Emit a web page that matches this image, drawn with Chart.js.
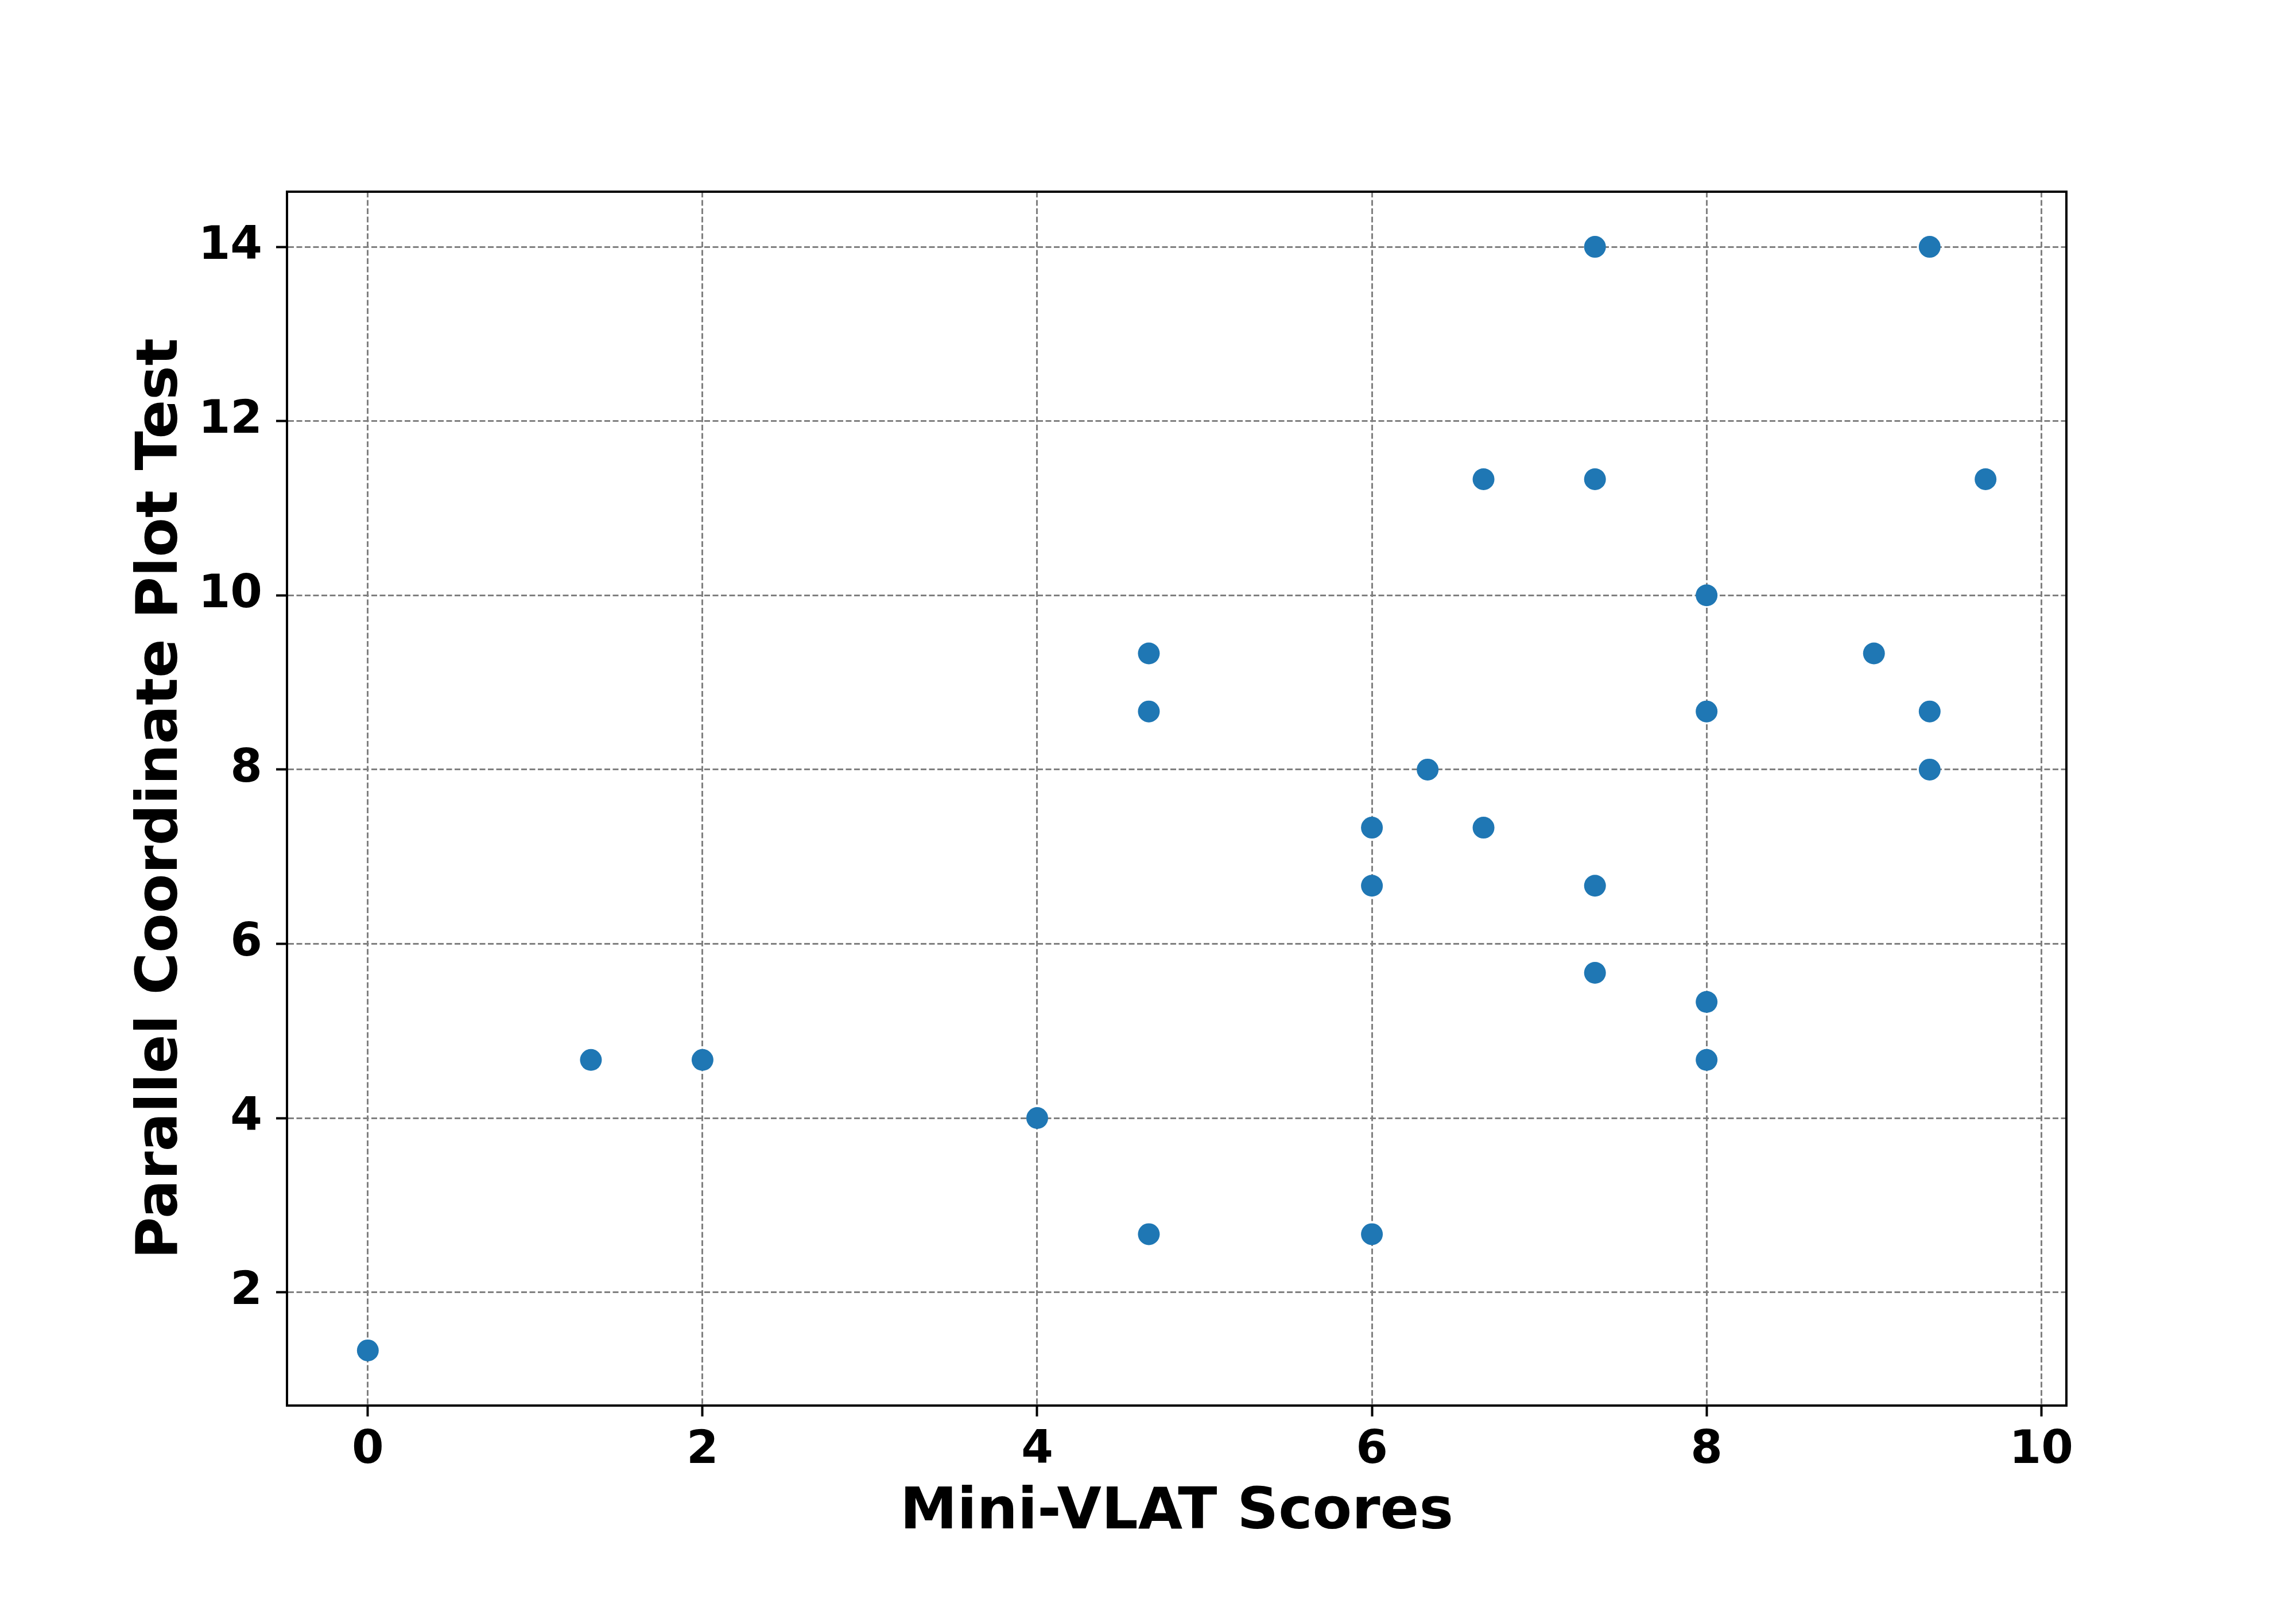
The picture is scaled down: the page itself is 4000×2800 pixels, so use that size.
<!DOCTYPE html>
<html>
<head>
<meta charset="utf-8">
<script src="https://cdn.jsdelivr.net/npm/chart.js@4/dist/chart.umd.min.js"></script>
<style>
  html, body { margin: 0; padding: 0; background: #fff; }
</style>
</head>
<body>
<canvas id="scatter" width="4000" height="2800"></canvas>
<script>
// Mini-VLAT score vs parallel coordinate plot test score, one point per participant
const miniVlat = [0, 1.333, 2, 4, 4.667, 4.667, 4.667, 6, 6, 6, 6.333, 6.667, 6.667,
  7.333, 7.333, 7.333, 7.333, 8, 8, 8, 8, 9, 9.333, 9.333, 9.333, 9.667];
const pcpTest = [1.333, 4.667, 4.667, 4, 2.667, 9.333, 8.667, 7.333, 6.667, 2.667, 8, 11.333, 7.333,
  14, 11.333, 6.667, 5.667, 10, 8.667, 5.333, 4.667, 9.333, 14, 8.667, 8, 11.333];
const xTicks = [0, 2, 4, 6, 8, 10];
const yTicks = [2, 4, 6, 8, 10, 12, 14];

const points = miniVlat.map((x, i) => ({ x: x, y: pcpTest[i] }));

// top + right spines (matplotlib style box)
const frame = {
  id: 'frame',
  afterDraw(chart) {
    const { ctx, chartArea: a } = chart;
    ctx.save();
    ctx.setLineDash([]);
    ctx.strokeStyle = '#000';
    ctx.lineWidth = 4;
    ctx.strokeRect(a.left, a.top, a.right - a.left, a.bottom - a.top);
    ctx.restore();
  }
};

const tickFont = { family: 'DejaVu Sans', size: 80, weight: 'bold' };
const titleFont = { family: 'DejaVu Sans', size: 100, weight: 'bold' };
const grid = {
  color: '#808080',
  lineWidth: 3,
  drawTicks: true,
  tickLength: 19,
  tickColor: '#000',
  tickWidth: 4,
  tickBorderDash: []
};
// in v4 border.dash is the dash of the grid lines
const border = { display: true, color: '#000', width: 4, dash: [10, 4.5] };

new Chart(document.getElementById('scatter'), {
  type: 'scatter',
  data: {
    datasets: [{
      data: points,
      backgroundColor: '#1f77b4',
      borderWidth: 0,
      pointRadius: 19,
      pointHoverRadius: 19
    }]
  },
  plugins: [frame],
  options: {
    responsive: false,
    animation: false,
    devicePixelRatio: 1,
    layout: { padding: { top: 334, right: 400, left: 0, bottom: 0 } },
    plugins: { legend: { display: false }, tooltip: { enabled: false } },
    scales: {
      x: {
        type: 'linear',
        min: -0.483,
        max: 10.15,
        afterBuildTicks: s => { s.ticks = xTicks.map(v => ({ value: v })); },
        afterFit: s => { s.height = 351; },
        grid: grid,
        border: border,
        ticks: { font: tickFont, color: '#000', padding: 12, maxRotation: 0 },
        title: { display: true, text: 'Mini-VLAT Scores', font: titleFont, color: '#000', padding: { top: 0, bottom: 103 } }
      },
      y: {
        type: 'linear',
        min: 0.7,
        max: 14.633,
        afterBuildTicks: s => { s.ticks = yTicks.map(v => ({ value: v })); },
        afterFit: s => { s.width = 500; },
        grid: grid,
        border: border,
        ticks: { font: tickFont, color: '#000', padding: 24 },
        title: { display: true, text: 'Parallel Coordinate Plot Test', font: titleFont, color: '#000', padding: { top: 222, bottom: 0 } }
      }
    }
  }
});
</script>
</body>
</html>
